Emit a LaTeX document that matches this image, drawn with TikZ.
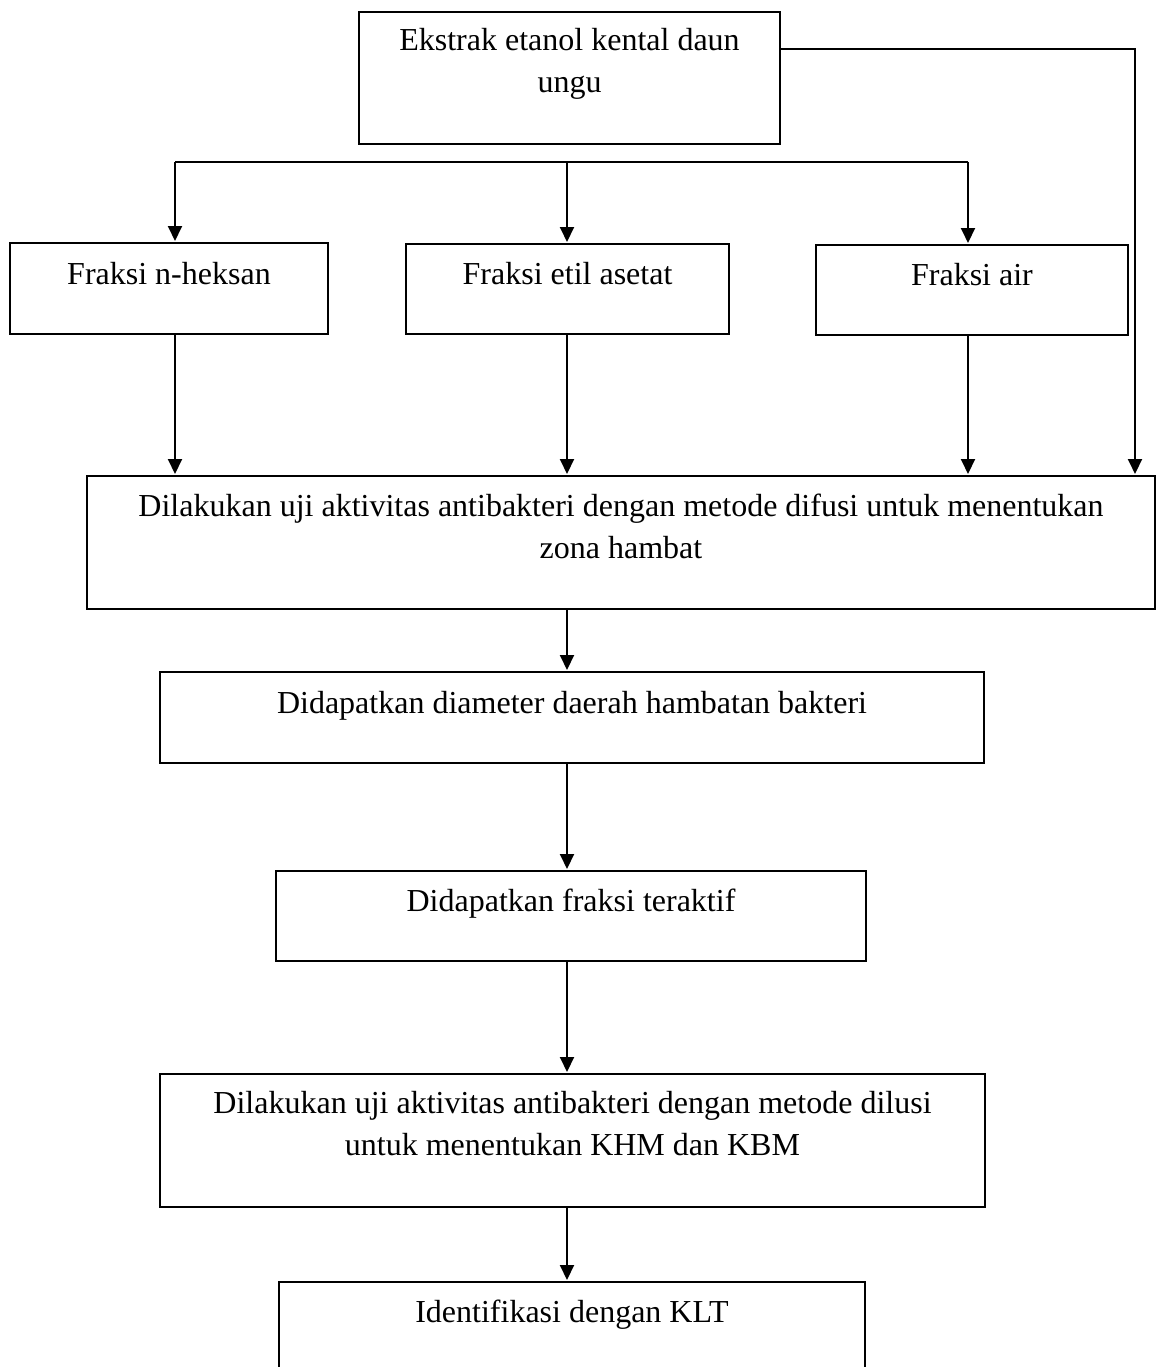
\documentclass[tikz,border=0pt]{standalone}
\usepackage{fontspec}
\setmainfont{Liberation Serif}
\usetikzlibrary{arrows.meta}
\begin{document}
\begin{tikzpicture}[x=1pt,y=-1pt,
  box/.style={draw, line width=2pt, rectangle, inner sep=0pt, outer sep=0pt, anchor=north west},
  lbl/.style={anchor=base, font=\fontsize{32}{42}\selectfont, align=center, inner sep=0pt},
  arr/.style={line width=2pt, -{Triangle[length=15pt,width=14pt]}, shorten >=2pt},
  ln/.style={line width=2pt}]
\useasboundingbox (0,0) rectangle (1157,1367);
\clip (0,0) rectangle (1157,1367);
% boxes
\node[box, minimum width=421pt, minimum height=132pt] (src) at (359,12) {};
\node[box, minimum width=318pt, minimum height=91pt] (fa) at (10,243) {};
\node[box, minimum width=323pt, minimum height=90pt] (fb) at (406,244) {};
\node[box, minimum width=312pt, minimum height=90pt] (fc) at (816,245) {};
\node[box, minimum width=1068pt, minimum height=133pt] (uji) at (87,476) {};
\node[box, minimum width=824pt, minimum height=91pt] (diam) at (160,672) {};
\node[box, minimum width=590pt, minimum height=90pt] (akt) at (276,871) {};
\node[box, minimum width=825pt, minimum height=133pt] (dil) at (160,1074) {};
\node[box, minimum width=586pt, minimum height=150pt] (klt) at (279,1282) {};
% texts (for two-line texts the base anchor is the last line)
\node[lbl] (tsrc) at ([yshift=-81pt]src.north) {Ekstrak etanol kental daun\\ungu};
\node[lbl] (tfa) at ([yshift=-41pt]fa.north) {Fraksi n-heksan};
\node[lbl] (tfb) at ([yshift=-40pt]fb.north) {Fraksi etil asetat};
\node[lbl] (tfc) at ([yshift=-40pt]fc.north) {Fraksi air};
\node[lbl] (tuji) at ([yshift=-82pt]uji.north) {Dilakukan uji aktivitas antibakteri dengan metode difusi untuk menentukan\\zona hambat};
\node[lbl] (tdiam) at ([yshift=-41pt]diam.north) {Didapatkan diameter daerah hambatan bakteri};
\node[lbl] (takt) at ([yshift=-40pt]akt.north) {Didapatkan fraksi teraktif};
\node[lbl] (tdil) at ([yshift=-81pt]dil.north) {Dilakukan uji aktivitas antibakteri dengan metode dilusi\\untuk menentukan KHM dan KBM};
\node[lbl] (tklt) at ([yshift=-40pt]klt.north) {Identifikasi dengan KLT};
% connectors
\coordinate (jL) at (175,162);
\coordinate (jM) at (567,162);
\coordinate (jR) at (968,162);
\coordinate (rc) at (1135,49);
\draw[ln] (jL) -- (jR);
\draw[arr] (jL) -- (jL |- fa.north);
\draw[arr] (jM) -- (jM |- fb.north);
\draw[arr] (jR) -- (jR |- fc.north);
\draw[arr] (src.east |- rc) -- (rc) -- (rc |- uji.north);
\draw[arr] (jL |- fa.south) -- (jL |- uji.north);
\draw[arr] (jM |- fb.south) -- (jM |- uji.north);
\draw[arr] (jR |- fc.south) -- (jR |- uji.north);
\draw[arr] (jM |- uji.south) -- (jM |- diam.north);
\draw[arr] (jM |- diam.south) -- (jM |- akt.north);
\draw[arr] (jM |- akt.south) -- (jM |- dil.north);
\draw[arr] (jM |- dil.south) -- (jM |- klt.north);
\end{tikzpicture}
\end{document}
